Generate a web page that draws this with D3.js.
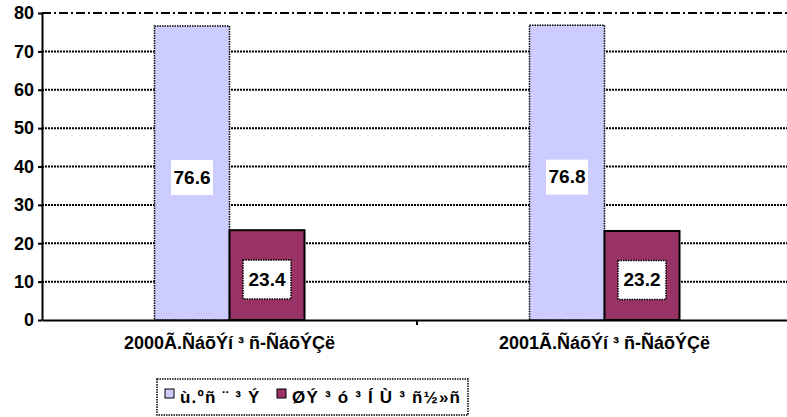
<!DOCTYPE html>
<html>
<head>
<meta charset="utf-8">
<script src="https://cdn.jsdelivr.net/npm/d3@7"></script>
<style>
  body { margin: 0; background: #fff; }
  svg { display: block; font-family: "Liberation Sans", Arial, sans-serif; }
</style>
</head>
<body>
<svg id="chart" width="787" height="417"></svg>
<script>
const categories = ["2000Ã.ÑáõÝí ³ ñ-ÑáõÝÇë", "2001Ã.ÑáõÝí ³ ñ-ÑáõÝÇë"];
const seriesNames = ["ù.ºñ ¨ ³ Ý", "ØÝ ³ ó ³ Í  Ù ³ ñ½»ñ"];
const seriesColors = ["#ccccff", "#993366"];
const cityValues = [76.6, 76.8];
const marzValues = [23.4, 23.2];
const yTicks = [0, 10, 20, 30, 40, 50, 60, 70, 80];

const rows = categories.map((c, i) => ({ cat: c, values: [cityValues[i], marzValues[i]] }));

const svg = d3.select("#chart");
const plotLeft = 42, plotRight = 792, plotTop = 13, plotBottom = 320;

const x0 = d3.scaleBand().domain(categories).range([plotLeft, plotRight]).paddingInner(0).paddingOuter(0);
const x1 = d3.scaleBand().domain(d3.range(seriesNames.length)).range([0, x0.bandwidth()])
  .paddingInner(0).paddingOuter(1.5);
const y = d3.scaleLinear().domain([0, 80]).range([plotBottom, plotTop]);

// gridlines
svg.append("g").selectAll("line").data(yTicks.filter(t => t > 0 && t < 80)).join("line")
  .attr("x1", plotLeft).attr("x2", plotRight)
  .attr("y1", d => y(d)).attr("y2", d => y(d))
  .attr("stroke", "#000").attr("stroke-width", 2).attr("stroke-dasharray", "2 1");

// top border of plot area
svg.append("line").attr("x1", plotLeft).attr("x2", plotRight).attr("y1", y(80)).attr("y2", y(80))
  .attr("stroke", "#000").attr("stroke-width", 2).attr("stroke-dasharray", "9 3 2 3");

// bars
const groups = svg.append("g").selectAll("g").data(rows).join("g")
  .attr("transform", d => `translate(${x0(d.cat)},0)`);

groups.selectAll("rect").data(d => d.values.map((v, i) => ({ v, i }))).join("rect")
  .attr("x", d => x1(d.i))
  .attr("y", d => y(d.v))
  .attr("width", x1.bandwidth())
  .attr("height", d => y(0) - y(d.v))
  .attr("fill", d => seriesColors[d.i])
  .attr("stroke", "#000")
  .attr("stroke-width", d => d.i === 0 ? 1.5 : 2)
  .attr("stroke-dasharray", d => d.i === 0 ? "1.5 1" : null);

// data labels
const labels = groups.selectAll("g.lbl").data(d => d.values.map((v, i) => ({ v, i }))).join("g")
  .attr("class", "lbl")
  .attr("transform", d => `translate(${x1(d.i) + x1.bandwidth() / 2},${(y(d.v) + y(0)) / 2 + 4})`);

labels.append("rect")
  .attr("x", d => d.i === 0 ? -21 : -24)
  .attr("y", d => d.i === 0 ? -17 : -19)
  .attr("width", d => d.i === 0 ? 42 : 48)
  .attr("height", d => d.i === 0 ? 35 : 39)
  .attr("fill", "#fff")
  .attr("stroke", d => d.i === 0 ? "none" : "#000")
  .attr("stroke-width", 1.5)
  .attr("stroke-dasharray", "1.5 1");

labels.append("text")
  .attr("text-anchor", "middle")
  .attr("dy", "0.36em")
  .attr("font-size", 19)
  .attr("font-weight", "bold")
  .text(d => d.v.toFixed(1));

// y axis
const yAxis = svg.append("g").attr("transform", `translate(${plotLeft},0)`)
  .call(d3.axisLeft(y).tickValues(yTicks).tickSize(4).tickSizeOuter(0));
yAxis.select(".domain").attr("stroke", "#000").attr("stroke-width", 2);
yAxis.selectAll(".tick line").attr("stroke", "#000").attr("stroke-width", 2);
yAxis.selectAll(".tick text").attr("font-size", 18).attr("font-weight", "bold")
  .attr("font-family", "Liberation Sans, Arial, sans-serif").attr("fill", "#000").attr("x", -8);

// x axis
const xAxis = svg.append("g").attr("transform", `translate(0,${plotBottom})`)
  .call(d3.axisBottom(x0).tickSize(0).tickSizeOuter(0));
xAxis.select(".domain").attr("stroke", "#000").attr("stroke-width", 2);
xAxis.selectAll(".tick text").attr("font-size", 18).attr("font-weight", "bold")
  .attr("font-family", "Liberation Sans, Arial, sans-serif").attr("fill", "#000").attr("dy", 0).attr("y", 29);
// category separator ticks
svg.append("g").selectAll("line").data(categories.slice(1)).join("line")
  .attr("x1", d => x0(d)).attr("x2", d => x0(d))
  .attr("y1", plotBottom).attr("y2", plotBottom + 5)
  .attr("stroke", "#000").attr("stroke-width", 2);

// legend
const legend = svg.append("g");
legend.append("rect").attr("x", 157).attr("y", 379).attr("width", 311).attr("height", 36)
  .attr("fill", "#fff").attr("stroke", "#000").attr("stroke-width", 1.5).attr("stroke-dasharray", "1.5 1");
const legendX = [165, 277];
const items = legend.selectAll("g").data(seriesNames).join("g")
  .attr("transform", (d, i) => `translate(${legendX[i]},0)`);
items.append("rect").attr("x", 0).attr("y", 389).attr("width", 9).attr("height", 9)
  .attr("fill", (d, i) => seriesColors[i]).attr("stroke", "#000").attr("stroke-width", 1);
items.append("text").attr("x", 15).attr("y", 403).attr("font-size", 17).attr("font-weight", "bold")
  .attr("letter-spacing", 1.2)
  .text(d => d);
</script>
</body>
</html>
